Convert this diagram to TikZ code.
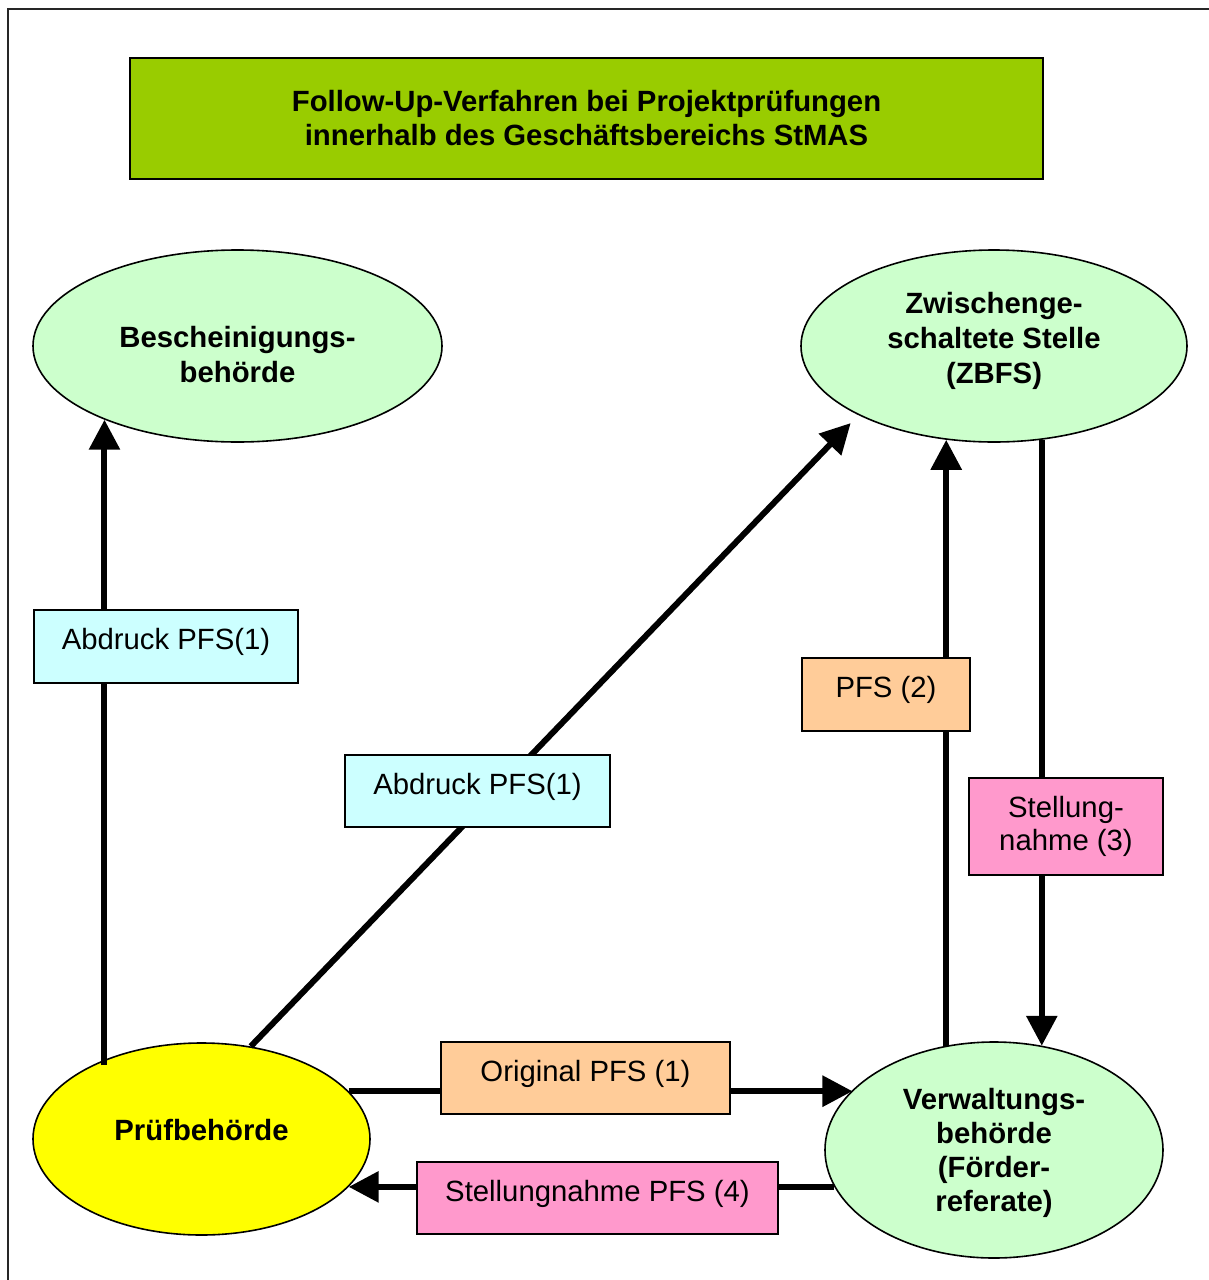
\documentclass[tikz,border=0pt]{standalone}
\usepackage{fontspec}
\setmainfont{Liberation Sans}
\usetikzlibrary{arrows.meta,shapes.geometric,calc}

\definecolor{titlegreen}{HTML}{99CC00}
\definecolor{palegreen}{HTML}{CCFFCC}
\definecolor{brightyellow}{HTML}{FFFF00}
\definecolor{cyanbox}{HTML}{CCFFFF}
\definecolor{peachbox}{HTML}{FFCC99}
\definecolor{pinkbox}{HTML}{FF99CC}

\begin{document}
\begin{tikzpicture}[x=1pt,y=1pt,
  every node/.style={font=\fontsize{29.3}{34}\selectfont},
  ell/.style={ellipse, draw=black, line width=1.6pt, inner sep=0pt},
  box/.style={rectangle, draw=black, line width=1.5pt, inner sep=0pt, align=center},
  txt/.style={draw=none, fill=none, align=center, inner sep=0pt},
  boldtxt/.style={txt, font=\bfseries\fontsize{29.3}{35}\selectfont},
  flow/.style={line width=6pt, -{Triangle[length=30pt,width=30pt]}}]

\useasboundingbox (0,0) rectangle (1208,-1280);
\fill[white] (0,0) rectangle (1208,-1280);

% page frame (open to the right and bottom)
\draw[line width=2pt, draw=black!85] (8,-1300) -- (8,-9) -- (1230,-9);

% heading
\node[box, fill=titlegreen, line width=2pt, minimum width=913pt, minimum height=121pt,
      font=\bfseries\fontsize{29.3}{34}\selectfont] (title) at (586.5,-118.5)
      {Follow-Up-Verfahren bei Projektprüfungen\\innerhalb des Geschäftsbereichs StMAS};

% authorities
\node[ell, fill=palegreen, minimum width=409pt, minimum height=192pt,
      label={[boldtxt,yshift=-9pt]center:Bescheinigungs-\\behörde}] (bb) at (237.5,-346) {};
\node[ell, fill=palegreen, minimum width=386pt, minimum height=192pt,
      label={[boldtxt,yshift=5pt]center:Zwischenge-\\schaltete Stelle\\(ZBFS)}] (zb) at (994,-346) {};
\node[ell, fill=brightyellow, minimum width=337pt, minimum height=192pt,
      label={[boldtxt,yshift=9pt]center:Prüfbehörde}] (pb) at (201.5,-1139) {};
\node[ell, fill=palegreen, minimum width=338pt, minimum height=216pt,
      label={[boldtxt,font=\bfseries\fontsize{29.3}{34}\selectfont,yshift=-3pt]center:Verwaltungs-\\behörde\\(Förder-\\referate)}] (vb) at (994,-1150) {};

% flows between the authorities
\draw[flow, shorten <=-6pt] (bb.209 |- pb.140) -- (bb.209);
\draw[flow, shorten >=11pt] (pb.62) -- (zb.207);
\draw[flow] (zb.243 |- vb.115) -- (zb.243);
\draw[flow] (zb.297) -- (zb.297 |- vb.65);
\draw[flow] (pb.18) -- (pb.18 -| vb.157);
\draw[flow] (vb.193) -- (vb.193 -| pb.342);

% documents carried along the flows
\node[box, fill=cyanbox, minimum width=264pt, minimum height=73pt,
      label={[txt,yshift=4.5pt]center:Abdruck PFS(1)}] (l1) at (166,-646.5) {};
\node[box, fill=cyanbox, minimum width=265pt, minimum height=72pt,
      label={[txt,yshift=4.5pt]center:Abdruck PFS(1)}] (l2) at (477.5,-791) {};
\node[box, fill=peachbox, minimum width=168pt, minimum height=73pt,
      label={[txt,yshift=4.5pt]center:PFS (2)}] (l3) at (886,-694.5) {};
\node[box, fill=pinkbox, minimum width=194pt, minimum height=97pt,
      font=\fontsize{29.3}{33}\selectfont] (l4) at (1066,-826.5) {Stellung-\\nahme (3)};
\node[box, fill=peachbox, minimum width=289pt, minimum height=72pt,
      label={[txt,yshift=4.5pt]center:Original PFS (1)}] (l5) at (585.5,-1078) {};
\node[box, fill=pinkbox, minimum width=361pt, minimum height=72pt,
      label={[txt,yshift=4.5pt]center:Stellungnahme PFS (4)}] (l6) at (597.5,-1198) {};

\end{tikzpicture}
\end{document}
